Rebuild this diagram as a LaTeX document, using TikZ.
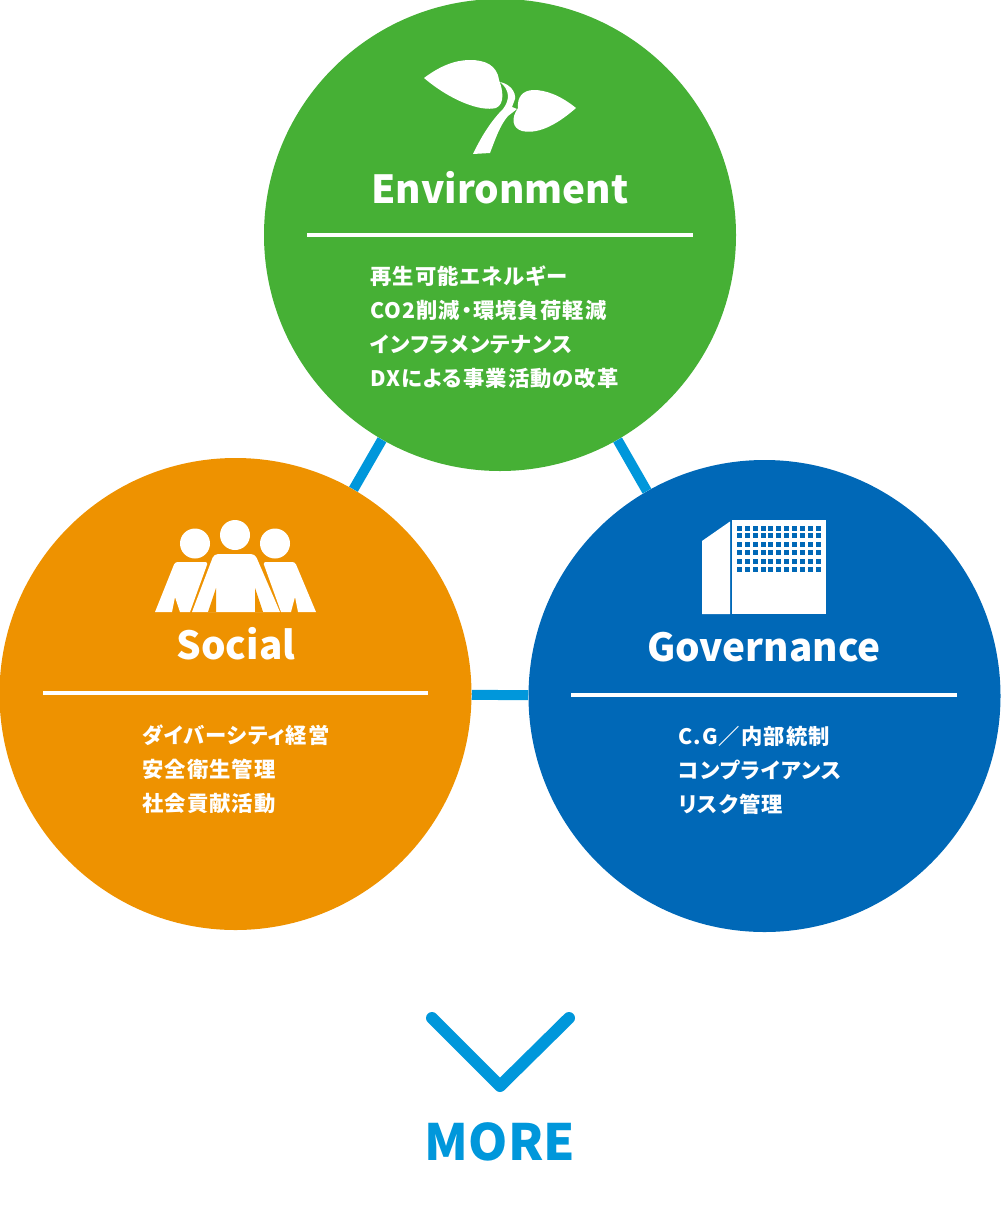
\documentclass[tikz,border=0pt]{standalone}
\usepackage{fontspec}
\newfontfamily\headfont{Noto Sans CJK JP Black}
\newfontfamily\listfont[LetterSpace=5,RawFeature={+palt}]{Noto Sans CJK JP Black}
\usetikzlibrary{calc, positioning}
\definecolor{envgreen}{HTML}{46B035}
\definecolor{socorange}{HTML}{EE9200}
\definecolor{govblue}{HTML}{0068B7}
\definecolor{linkblue}{HTML}{0097DB}
\tikzset{
  theme/.style={circle,minimum size=354pt,inner sep=0pt},
  link/.style={line width=7.5pt,linkblue},
  rule/.style={line width=3pt,white},
  heading/.style={text=white,anchor=base,inner sep=0pt,font=\fontsize{29}{29}\selectfont\headfont},
  items/.style={text=white,anchor=north west,inner sep=0pt,align=left,font=\fontsize{16}{25.5}\selectfont\listfont}
}
\begin{document}
\begin{tikzpicture}[x=0.75pt,y=-0.75pt]
\useasboundingbox (0,0) rectangle (1000,1210);

\node[theme,fill=envgreen] (env) at (500,235) {};
\node[theme,fill=socorange] (soc) at (235.5,694) {};
\node[theme,fill=govblue] (gov) at (764.5,696) {};

%connectors
\draw[link] (env) -- (soc);
\draw[link] (env) -- (gov);
\draw[link] (soc) -- (gov);

%leaf
\fill[white] (424,78) .. controls (440,66) and (455,60) .. (470,60)
  .. controls (485,60) and (497,65) .. (499,80)
  .. controls (503,90) and (505,104) .. (496,108)
  .. controls (480,112) and (450,100) .. (424,78) -- cycle;
\fill[white] (500,82) .. controls (510,84) and (516,92) .. (515,99)
  -- (512,107) -- (517,109) -- (508,116) .. controls (500,125) and (495,140) .. (490,153)
  -- (473,154) .. controls (482,135) and (492,120) .. (503,109)
  .. controls (510,100) and (510,90) .. (500,82) -- cycle;
\fill[white] (576,108) .. controls (560,95) and (545,90) .. (534,90)
  .. controls (522,90) and (517,98) .. (518,108)
  .. controls (511,118) and (512,128) .. (522,131)
  .. controls (540,135) and (560,122) .. (576,108) -- cycle;
\node[heading] (envtitle) at (500,203) {Environment};
\draw[rule] (307,235) -- (693,235);
\node[items] (envitems) at (370,265) {再生可能エネルギー\\CO2削減・環境負荷軽減\\インフラメンテナンス\\DXによる事業活動の改革};

%people
\fill[white] (235,535) circle (15) (195,543.5) circle (15) (275,543.5) circle (15);
\fill[white] (192,612) [rounded corners=3pt] -- (214,554) -- (255,554) [sharp corners] -- (280,612) -- cycle;
\fill[socorange] (216,588) -- (216,612) -- (208,612) -- cycle;
\fill[socorange] (255,588) -- (255,612) -- (263,612) -- cycle;
\fill[white] (155,612) [rounded corners=2pt] -- (175,562) -- (208,562) [sharp corners] -- (190,612) -- (180,612) -- (175,597) -- (172,612) -- cycle;
\fill[white] (316,612) [rounded corners=2pt] -- (295,562) -- (263,562) [sharp corners] -- (281,612) -- (291,612) -- (295,597) -- (298,612) -- cycle;
\node[heading] (soctitle) at (236,659) {Social};
\draw[rule] (43,693) -- (428,693);
\node[items] (socitems) at (142,724) {ダイバーシティ経営\\安全衛生管理\\社会貢献活動};

%building
\fill[white] (702,541) -- (730,521.5) -- (730,614) -- (702,614) -- cycle;
\fill[white] (732,520) rectangle (826,614);
\foreach \wy in {528,535.3,544.7,552,561.7,569}
  \foreach \wx in {0,...,10}
    \fill[govblue] ({739.3+7.9*\wx-2.5},\wy-2.5) rectangle ++(5,5);
\node[heading] (govtitle) at (764,661) {Governance};
\draw[rule] (571,695) -- (957,695);
\node[items] (govitems) at (678,726) {C.G／内部統制\\コンプライアンス\\リスク管理};

%more
\draw[line width=9pt,linkblue,line cap=round,line join=round] (432,1018) -- (500,1086) -- (569,1018);
\node[text=linkblue,anchor=base,inner sep=0pt,font=\fontsize{37.5}{37.5}\selectfont\headfont] (more) at (500,1160) {MORE};
\end{tikzpicture}
\end{document}
